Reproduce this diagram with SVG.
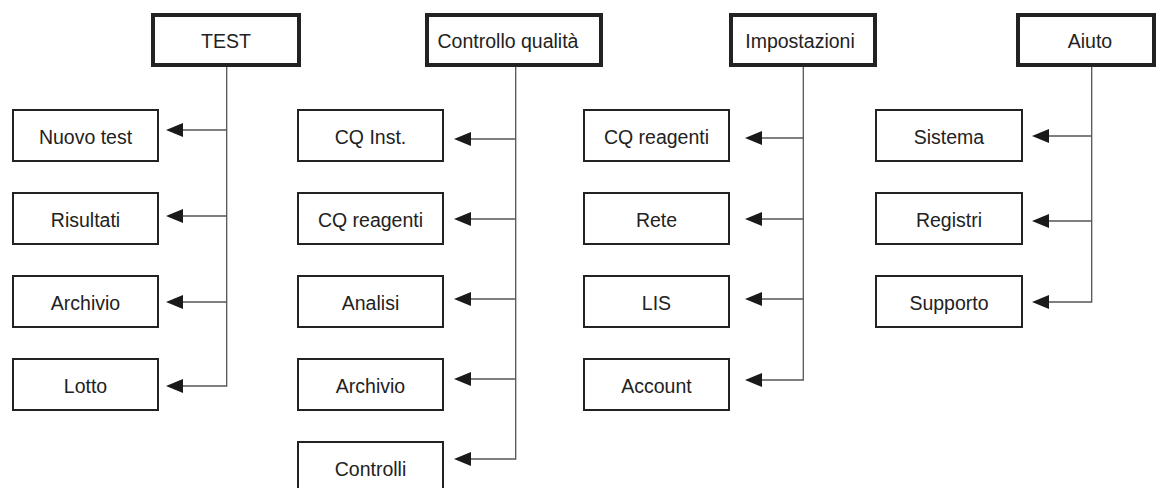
<svg xmlns="http://www.w3.org/2000/svg" width="1157" height="488" viewBox="0 0 1157 488">
<style>
.hdr{fill:#fff;stroke:#222;stroke-width:4}
.box{fill:#fff;stroke:#222;stroke-width:2}
.t{font-family:"Liberation Sans",Arial,sans-serif;font-size:19.5px;fill:#222;text-anchor:middle}
.c{fill:none;stroke:#555;stroke-width:1.3;marker-end:url(#ah)}
</style>
<defs>
<marker id="ah" markerUnits="userSpaceOnUse" markerWidth="18" markerHeight="14" refX="0" refY="7" orient="auto" overflow="visible">
<path d="M0,0 L17,7 L0,14 z" fill="#1a1a1a"/>
</marker>
</defs>
<rect width="1157" height="488" fill="#fff"/>
<g id="connectors">
<path class="c" d="M226.7,130 H183"/>
<path class="c" d="M226.7,216 H183"/>
<path class="c" d="M226.7,302 H183"/>
<path class="c" d="M226.7,67 V386 H183"/>
<path class="c" d="M515.7,139 H471"/>
<path class="c" d="M515.7,219 H471"/>
<path class="c" d="M515.7,299 H471"/>
<path class="c" d="M515.7,379 H471"/>
<path class="c" d="M515.7,67 V459 H471"/>
<path class="c" d="M803.3,138 H762"/>
<path class="c" d="M803.3,219 H762"/>
<path class="c" d="M803.3,299 H762"/>
<path class="c" d="M803.3,67 V380 H762"/>
<path class="c" d="M1091.7,136 H1049"/>
<path class="c" d="M1091.7,221 H1049"/>
<path class="c" d="M1091.7,67 V302 H1049"/>
</g>
<g id="test"><rect class="hdr" x="153" y="15" width="146" height="50"/><text class="t" x="226" y="48">TEST</text></g>
<g id="cq"><rect class="hdr" x="427" y="15" width="174" height="50"/><text class="t" x="508" y="48">Controllo qualità</text></g>
<g id="impostazioni"><rect class="hdr" x="731" y="15" width="144" height="50"/><text class="t" x="800" y="48">Impostazioni</text></g>
<g id="aiuto"><rect class="hdr" x="1018" y="15" width="136" height="50"/><text class="t" x="1090" y="48">Aiuto</text></g>

<g id="nuovo-test"><rect class="box" x="13" y="110" width="145" height="51"/><text class="t" x="85.5" y="143.5">Nuovo test</text></g>
<g id="risultati"><rect class="box" x="13" y="193" width="145" height="51"/><text class="t" x="85.5" y="226.5">Risultati</text></g>
<g id="archivio1"><rect class="box" x="13" y="276" width="145" height="51"/><text class="t" x="85.5" y="309.5">Archivio</text></g>
<g id="lotto"><rect class="box" x="13" y="359" width="145" height="51"/><text class="t" x="85.5" y="392.5">Lotto</text></g>

<g id="cq-inst"><rect class="box" x="298" y="110" width="145" height="51"/><text class="t" x="370.5" y="143.5">CQ Inst.</text></g>
<g id="cq-reagenti1"><rect class="box" x="298" y="193" width="145" height="51"/><text class="t" x="370.5" y="226.5">CQ reagenti</text></g>
<g id="analisi"><rect class="box" x="298" y="276" width="145" height="51"/><text class="t" x="370.5" y="309.5">Analisi</text></g>
<g id="archivio2"><rect class="box" x="298" y="359" width="145" height="51"/><text class="t" x="370.5" y="392.5">Archivio</text></g>
<g id="controlli"><rect class="box" x="298" y="442" width="145" height="51"/><text class="t" x="370.5" y="475.5">Controlli</text></g>

<g id="cq-reagenti2"><rect class="box" x="584" y="110" width="145" height="51"/><text class="t" x="656.5" y="143.5">CQ reagenti</text></g>
<g id="rete"><rect class="box" x="584" y="193" width="145" height="51"/><text class="t" x="656.5" y="226.5">Rete</text></g>
<g id="lis"><rect class="box" x="584" y="276" width="145" height="51"/><text class="t" x="656.5" y="309.5">LIS</text></g>
<g id="account"><rect class="box" x="584" y="359" width="145" height="51"/><text class="t" x="656.5" y="392.5">Account</text></g>

<g id="sistema"><rect class="box" x="876" y="110" width="146" height="51"/><text class="t" x="949" y="143.5">Sistema</text></g>
<g id="registri"><rect class="box" x="876" y="193" width="146" height="51"/><text class="t" x="949" y="226.5">Registri</text></g>
<g id="supporto"><rect class="box" x="876" y="276" width="146" height="51"/><text class="t" x="949" y="309.5">Supporto</text></g>
</svg>
